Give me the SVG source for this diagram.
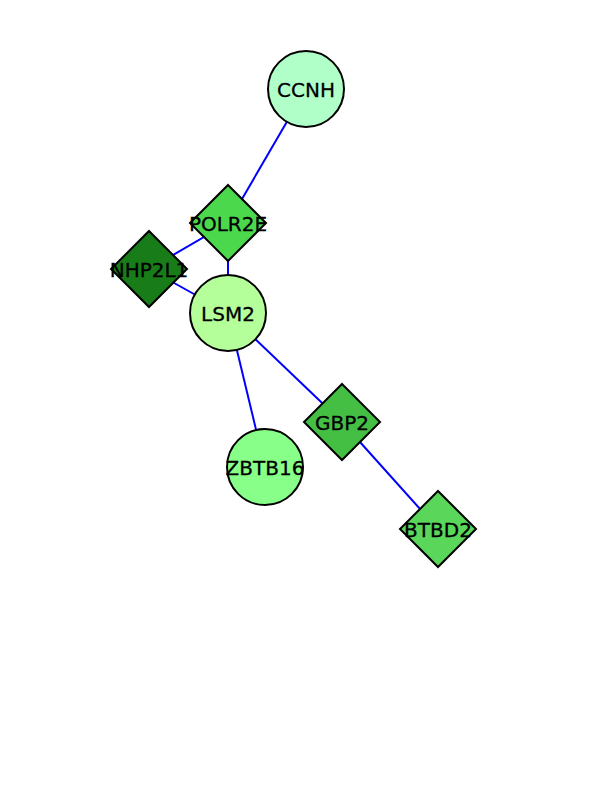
<svg xmlns="http://www.w3.org/2000/svg" width="612" height="792" viewBox="0 0 612 792">
<style>
.edge{stroke:#0000ff;stroke-width:2;fill:none}
.node{stroke:#000;stroke-width:2}
.lbl{font-family:"DejaVu Sans","Liberation Sans",sans-serif;font-size:20px;fill:#000;stroke:#000;stroke-width:0.3;text-anchor:middle}
</style>
<rect width="612" height="792" fill="#fff"/>
<g id="edges">
<line class="edge" x1="306" y1="89" x2="228" y2="223"/>
<line class="edge" x1="228" y1="223" x2="149" y2="269"/>
<line class="edge" x1="228" y1="223" x2="228" y2="313"/>
<line class="edge" x1="149" y1="269" x2="228" y2="313"/>
<line class="edge" x1="228" y1="313" x2="265" y2="467"/>
<line class="edge" x1="228" y1="313" x2="342" y2="422"/>
<line class="edge" x1="342" y1="422" x2="438" y2="529"/>
</g>
<g id="CCNH"><circle class="node" cx="306" cy="89" r="38" fill="#b0ffc8"/><text class="lbl" x="306" y="97">CCNH</text></g>
<g id="POLR2E"><polygon class="node" points="228,185 266,223 228,261 190,223" fill="#4cd84c"/><text class="lbl" x="228" y="231">POLR2E</text></g>
<g id="NHP2L1"><polygon class="node" points="149,231 187,269 149,307 111,269" fill="#187c18"/><text class="lbl" x="149" y="277">NHP2L1</text></g>
<g id="LSM2"><circle class="node" cx="228" cy="313" r="38" fill="#b4ff9a"/><text class="lbl" x="228" y="321">LSM2</text></g>
<g id="ZBTB16"><circle class="node" cx="265" cy="467" r="38" fill="#88ff88"/><text class="lbl" x="265" y="475">ZBTB16</text></g>
<g id="GBP2"><polygon class="node" points="342,384 380,422 342,460 304,422" fill="#44bf44"/><text class="lbl" x="342" y="430">GBP2</text></g>
<g id="BTBD2"><polygon class="node" points="438,491 476,529 438,567 400,529" fill="#5ad65a"/><text class="lbl" x="438" y="537">BTBD2</text></g>
</svg>
